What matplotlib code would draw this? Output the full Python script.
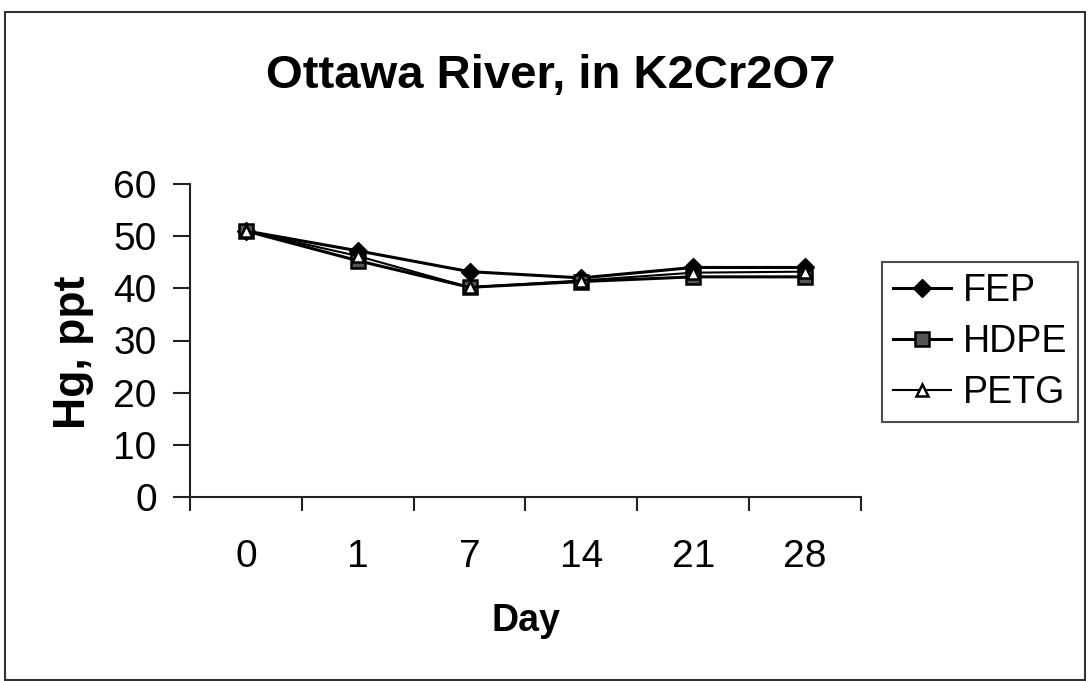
import matplotlib.pyplot as plt
from matplotlib.patches import Rectangle

days = ["0", "1", "7", "14", "21", "28"]
fep = [51, 47.2, 43.2, 42, 44, 44]
hdpe = [51, 45.3, 40.2, 41.3, 42.2, 42.2]
petg = [51, 46.2, 40.2, 41.5, 43, 43.2]
y_ticks = [0, 10, 20, 30, 40, 50, 60]

plt.rcParams['font.family'] = ['Liberation Sans', 'DejaVu Sans']

fig = plt.figure(figsize=(10.88, 6.81), dpi=100)
fig.patch.set_facecolor("white")

# outer frame around the whole chart
fig.patches.append(Rectangle((5 / 1088, 1 / 681), 1080 / 1088, 668 / 681,
                             transform=fig.transFigure, fill=False,
                             edgecolor="#333333", linewidth=1.5))

ax = fig.add_axes([190 / 1088, 1 - 497 / 681, 671 / 1088, 313 / 681])
x = list(range(len(days)))

ax.plot(x, fep, color="black", lw=2.2, marker="D", ms=9,
        mfc="black", mec="black", label="FEP", zorder=3)
ax.plot(x, hdpe, color="black", lw=2.2, marker="s", ms=10,
        mfc="#555555", mec="black", mew=1.8, label="HDPE", zorder=3)
ax.plot(x, petg, color="black", lw=1.5, marker="^", ms=9,
        mfc="white", mec="black", mew=1.8, label="PETG", zorder=4)

ax.set_xlim(-0.5, len(days) - 0.5)
ax.set_ylim(0, 60)
ax.set_yticks(y_ticks)
ax.set_xticks(x)
ax.set_xticklabels(days)
ax.set_xticks([i - 0.5 for i in range(len(days) + 1)], minor=True)

for side in ["top", "right"]:
    ax.spines[side].set_visible(False)
for side in ["left", "bottom"]:
    ax.spines[side].set_color("#222222")
    ax.spines[side].set_linewidth(1.5)

ax.tick_params(axis="y", direction="out", length=12, width=1.5,
               labelsize=28, pad=12, color="#222222")
ax.tick_params(axis="x", which="major", length=0, labelsize=28, pad=30)
ax.tick_params(axis="x", which="minor", direction="out", length=10,
               width=1.5, color="#222222")

fig.text(551 / 1088, 1 - 76 / 681, "Ottawa River, in K2Cr2O7",
         ha="center", va="center", fontsize=34, fontweight="bold")
fig.text(526 / 1088, 1 - 621 / 681, "Day",
         ha="center", va="center", fontsize=27, fontweight="bold")
fig.text(73 / 1088, 1 - 352 / 681, "Hg, ppt", rotation=90,
         ha="center", va="center", fontsize=32, fontweight="bold")

leg = fig.legend(loc="center", bbox_to_anchor=(980 / 1088, 1 - 342 / 681),
                 fontsize=27, frameon=True, fancybox=False,
                 handlelength=1.55, handletextpad=0.3, labelspacing=0.4,
                 borderpad=0.3, borderaxespad=0)
leg.get_frame().set_edgecolor("#222222")
leg.get_frame().set_linewidth(1.5)

fig.savefig("out.png", dpi=100)
